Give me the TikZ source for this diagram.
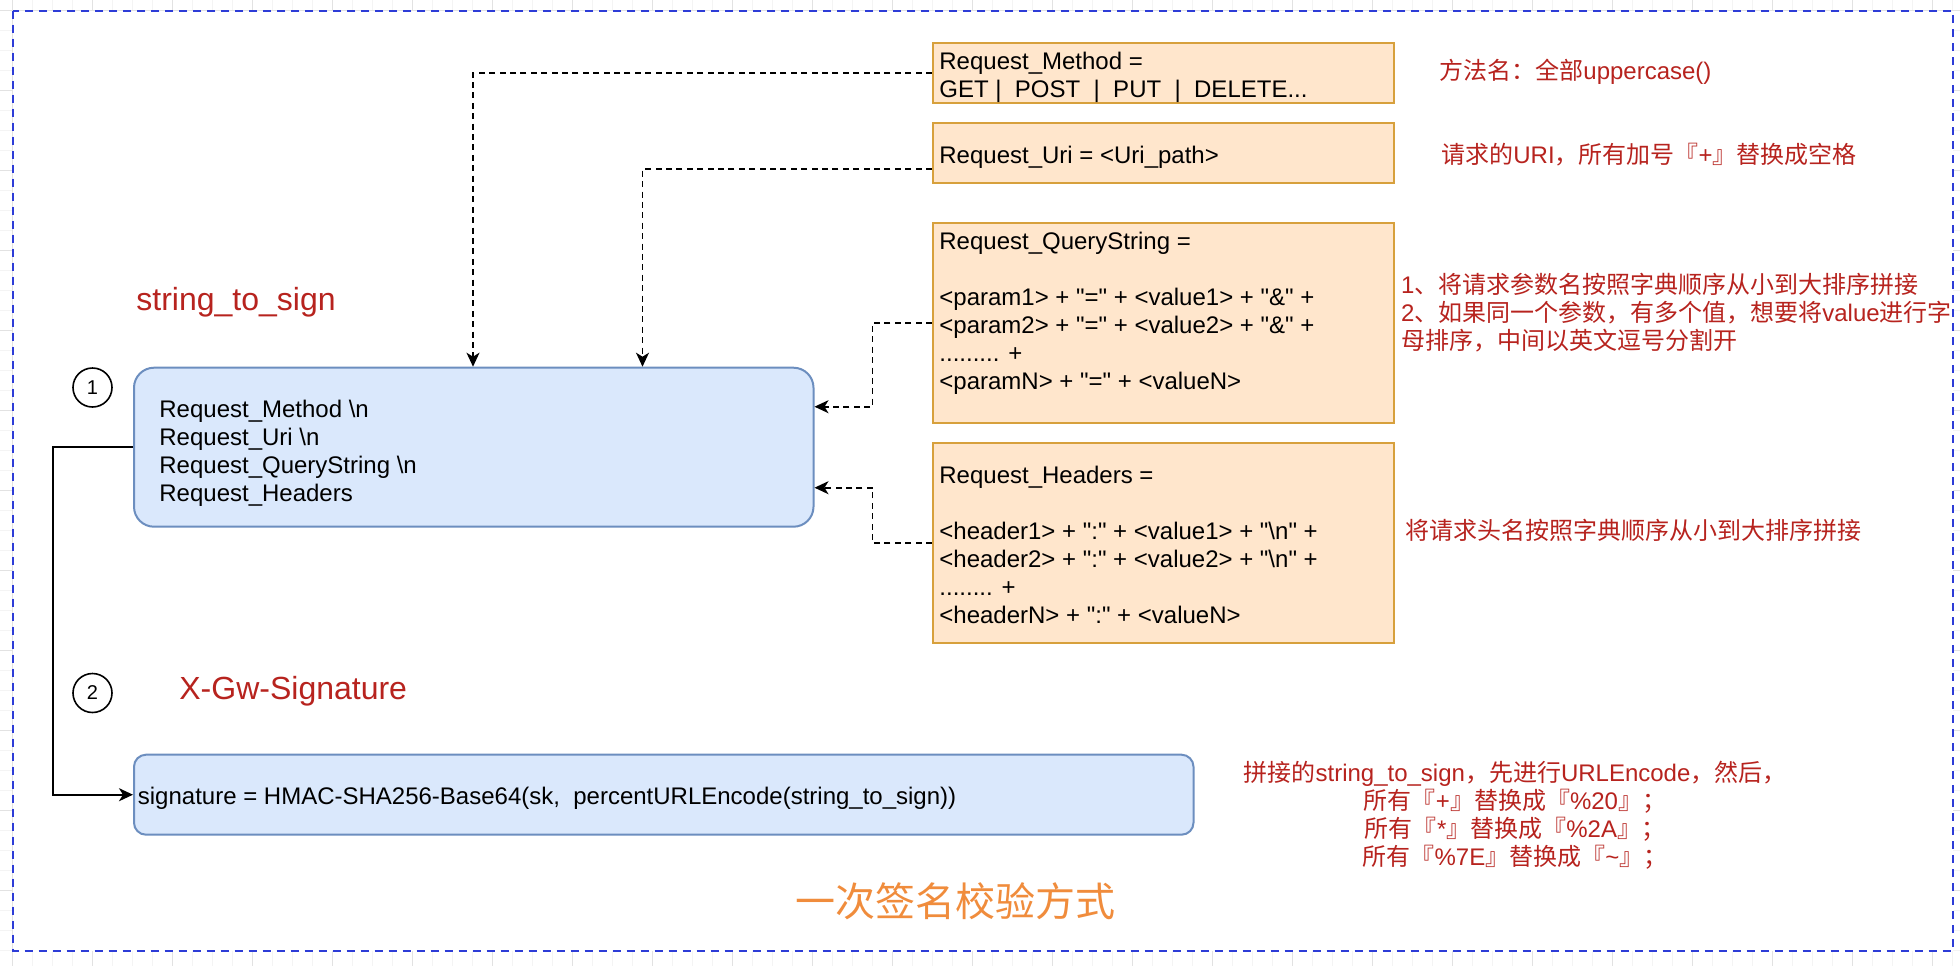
\documentclass[tikz,border=0pt]{standalone}
\usepackage{fontspec}
\setmainfont{Liberation Sans}[Ligatures=TeXOff]
\newfontfamily\cjk{Noto Sans CJK SC}
\usetikzlibrary{arrows.meta,calc}
\definecolor{fillorange}{HTML}{FFE6CC}
\definecolor{boxorange}{RGB}{215,160,60}
\definecolor{fillblue}{HTML}{DAE8FC}
\definecolor{boxblue}{HTML}{6C8EBF}
\definecolor{annred}{RGB}{183,35,30}
\definecolor{titleorange}{RGB}{240,140,60}
\definecolor{borderblue}{RGB}{45,60,215}
\definecolor{gridminor}{RGB}{244,244,244}
\definecolor{gridmajor}{RGB}{226,226,226}
\newcommand\zh[1]{{\cjk #1}}
\newcommand\lines[1]{\vtop{#1}}
\newcommand\myrow[1]{\hbox{#1}}
\newcommand\mycrow[1]{\hbox to 0pt{\hss #1\hss}}
\begin{document}
\begin{tikzpicture}[x=0.5pt,y=-0.5pt,
  obox/.style={draw=boxorange, fill=fillorange, line width=1pt, inner sep=0,
    minimum width=230.25pt, anchor=north west},
  bbox/.style={draw=boxblue, fill=fillblue, line width=1pt, inner sep=0, anchor=north west},
  txt/.style={inner sep=0, anchor=base west, font=\fontsize{12}{14}\selectfont},
  redtxt/.style={txt, text=annred},
  redlabel/.style={inner sep=0, anchor=base west, font=\fontsize{16}{19}\selectfont, text=annred},
  numcircle/.style={circle, draw, line width=0.8pt, minimum size=19.5pt, inner sep=0,
    font=\fontsize{10}{12}\selectfont},
  dconn/.style={draw, line width=0.8pt, dash pattern=on 3pt off 2.2pt,
    -{Stealth[length=7pt,width=6.5pt,inset=2pt]}},
  sconn/.style={draw, line width=1pt, -{Stealth[length=7pt,width=6.5pt,inset=2pt]}}
]
\useasboundingbox (0,0) rectangle (1960,966);
% background grid (visible only in the margins)
\foreach \gx in {12.7,32.7,...,1960} \draw[gridminor, line width=0.5pt] (\gx,0) -- (\gx,966);
\foreach \gy in {10.7,30.7,...,966} \draw[gridminor, line width=0.5pt] (0,\gy) -- (1960,\gy);
\foreach \gx in {12.7,92.7,...,1960} \draw[gridmajor, line width=0.5pt] (\gx,0) -- (\gx,966);
\foreach \gy in {10.7,90.7,...,966} \draw[gridmajor, line width=0.5pt] (0,\gy) -- (1960,\gy);
\fill[white] (12.7,10.7) rectangle (1953,950.7);
\draw[borderblue, line width=1pt, dash pattern=on 4pt off 3pt] (12.7,10.7) rectangle (1953,950.7);

% orange boxes
\node[obox, minimum height=30.3pt] (method) at (932,41.7) {};
\node[obox, minimum height=30.3pt] (uri) at (932,121.7) {};
\node[obox, minimum height=100.3pt] (qs) at (932,221.7) {};
\node[obox, minimum height=100.2pt] (hdr) at (932,441.7) {};

\node[txt] (methodtxt) at (939,69) {\lines{\myrow{Request\_Method =}\myrow{GET |\ \ POST\ \ |\ \ PUT\ \ |\ \ DELETE...}}};
\node[txt] (uritxt) at (939,163) {Request\_Uri = <Uri\_path>};
\node[txt] (qstxt) at (939,249) {\lines{\myrow{Request\_QueryString =}\myrow{}%
  \myrow{<param1> + "=" + <value1> + "\&" +}\myrow{<param2> + "=" + <value2> + "\&" +}%
  \myrow{......... +}\myrow{<paramN> + "=" + <valueN>}}};
\node[txt] (hdrtxt) at (939,483) {\lines{\myrow{Request\_Headers =}\myrow{}%
  \myrow{<header1> + ":" + <value1> + "\textbackslash n" +}\myrow{<header2> + ":" + <value2> + "\textbackslash n" +}%
  \myrow{........ +}\myrow{<headerN> + ":" + <valueN>}}};

% annotations
\node[redtxt] (a1) at (1439,79.5) {\zh{方法名：全部}uppercase()};
\node[redtxt] (a2) at (1441,163) {\zh{请求的}URI\zh{，所有加号『}+\zh{』替换成空格}};
\node[redtxt] (a3) at (1400.6,293) {\lines{\myrow{1\zh{、将请求参数名按照字典顺序从小到大排序拼接}}%
  \myrow{2\zh{、如果同一个参数，有多个值，想要将}value\zh{进行字}}\myrow{\zh{母排序，中间以英文逗号分割开}}}};
\node[redtxt] (a4) at (1405,539) {\zh{将请求头名按照字典顺序从小到大排序拼接}};
\node[redtxt, anchor=base] (a5) at (1515,781) {\lines{%
  \mycrow{\zh{拼接的}string\_to\_sign\zh{，先进行}URLEncode\zh{，然后，}}%
  \mycrow{\zh{所有『}+\zh{』替换成『}\%20\zh{』；}}%
  \mycrow{\zh{所有『}*\zh{』替换成『}\%2A\zh{』；}}%
  \mycrow{\zh{所有『}\%7E\zh{』替换成『}\textasciitilde\zh{』；}}}};

% blue boxes
\node[bbox, rounded corners=10pt, minimum width=339.75pt, minimum height=79.5pt] (box1) at (133,366.7) {};
\node[txt] (box1txt) at (159,417) {\lines{\myrow{Request\_Method \textbackslash n}\myrow{Request\_Uri \textbackslash n}%
  \myrow{Request\_QueryString \textbackslash n}\myrow{Request\_Headers}}};
\node[bbox, rounded corners=6pt, minimum width=529.75pt, minimum height=40pt] (box2) at (133,753.7) {};
\node[txt] (box2txt) at (137.5,804) {signature = HMAC-SHA256-Base64(sk,\ \ percentURLEncode(string\_to\_sign))};

% labels and step numbers
\node[redlabel] (lab1) at (136,310) {string\_to\_sign};
\node[redlabel] (lab2) at (179,699) {X-Gw-Signature};
\node[numcircle] (n1) at (92.5,387.5) {1};
\node[numcircle] (n2) at (92.5,693) {2};

% title
\node[inner sep=0, anchor=base, font=\fontsize{20}{24}\selectfont, text=titleorange] (title) at (955.5,916) {\zh{一次签名校验方式}};

% connectors
\draw[dconn] (method.west) -| ($(box1.north west)+(340,0)$);
\draw[dconn] ($(uri.south west)+(0,-15.3)$) -| ($(box1.north west)+(509.5,0)$);
\draw[dconn] (qs.west) -- ++(-59.5,0) |- ($(box1.north east)+(0,40)$);
\draw[dconn] (hdr.west) -- ++(-59.5,0) |- ($(box1.south east)+(0,-40)$);
\draw[sconn] (box1.west) -- ++(-80.5,0) |- (box2.west);
\end{tikzpicture}
\end{document}
